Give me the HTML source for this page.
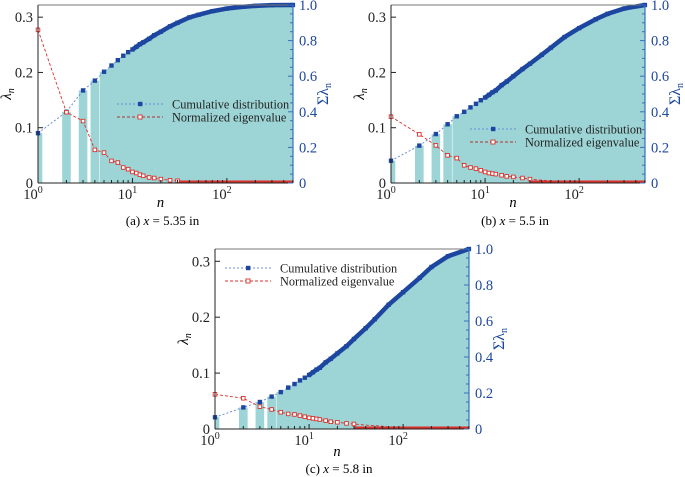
<!DOCTYPE html>
<html><head><meta charset="utf-8">
<style>
html,body{margin:0;padding:0;background:#fff;}
svg{display:block;}
svg text{font-family:"Liberation Serif","DejaVu Serif",serif;}
</style></head>
<body>
<svg id="fig" width="685" height="477" viewBox="0 0 685 477" font-family="Liberation Serif, serif"></svg>
<script>
// Panel (a) x = 5.35 in
const nA = [1,2,3,4,5,6,7,8,9,10,11,12,13,15,17,20,25,30,40,50,70,100,150,200,300,500];
const cumA = [0.28,0.40,0.52,0.575,0.625,0.66,0.69,0.715,0.735,0.75,0.765,0.78,0.79,0.81,0.83,0.85,0.88,0.90,0.93,0.945,0.965,0.98,0.99,0.995,0.999,1.0];
const eigA = [0.277,0.128,0.112,0.060,0.055,0.040,0.037,0.028,0.025,0.020,0.018,0.015,0.013,0.010,0.009,0.007,0.005,0.004,0.003,0.002,0.0013,0.0008,0.0005,0.0003,0.0002,0.0001];
// Panel (b) x = 5.5 in
const nB = [1,2,3,4,5,6,7,8,9,10,11,12,13,15,17,20,25,30,40,50,70,100,150,200,300,500];
const cumB = [0.125,0.21,0.275,0.33,0.375,0.40,0.425,0.445,0.465,0.48,0.495,0.51,0.52,0.55,0.57,0.60,0.64,0.67,0.72,0.76,0.82,0.87,0.92,0.95,0.98,1.0];
const eigB = [0.12,0.088,0.068,0.050,0.045,0.032,0.028,0.026,0.023,0.020,0.018,0.017,0.016,0.014,0.012,0.011,0.009,0.007,0.005,0.004,0.003,0.002,0.0015,0.001,0.0008,0.0005];
// Panel (c) x = 5.8 in
const nC = [1,2,3,4,5,6,7,8,9,10,11,12,13,15,17,20,25,30,40,50,70,100,150,200,300,500];
const cumC = [0.065,0.12,0.15,0.18,0.205,0.23,0.25,0.27,0.285,0.30,0.315,0.33,0.34,0.37,0.39,0.42,0.46,0.50,0.56,0.61,0.69,0.76,0.84,0.90,0.96,1.0];
const eigC = [0.062,0.055,0.040,0.035,0.030,0.027,0.026,0.024,0.022,0.020,0.019,0.018,0.017,0.015,0.013,0.012,0.010,0.009,0.007,0.006,0.004,0.003,0.002,0.0015,0.001,0.001];
const leftTicks = [0,0.1,0.2,0.3];
const leftTickLabels = ["0","0.1","0.2","0.3"];
const rightTicks = [0,0.2,0.4,0.6,0.8,1.0];
const rightTickLabels = ["0","0.2","0.4","0.6","0.8","1.0"];
const xDecades = [0,1,2];

const NS = "http://www.w3.org/2000/svg";
const svg = document.getElementById("fig");
const FF = "Liberation Serif, serif";
function mk(tag, attrs, parent, text){
  const e = document.createElementNS(NS, tag);
  for (const k in attrs) e.setAttribute(k, attrs[k]);
  if (tag === "text") e.setAttribute("font-family", FF);
  if (text !== undefined) e.textContent = text;
  (parent||svg).appendChild(e);
  return e;
}

function panel(P){
  const g = mk("g", {});
  
  
  const xs = n => P.L + Math.log10(n) / 2.7 * (P.R - P.L);
  const yl = v => P.B - v / 0.322 * (P.B - P.T);
  const yr = v => P.B - v * (P.B - P.T);
  const teal = "#9dd4d5", blue = "#1d46a0", red = "#d9302c";
  const hw = 4.3;
  for (let i = 0; i < P.n.length; i++) {
    if (P.n[i] > 4) break;
    const cx = xs(P.n[i]);
    const x0 = Math.max(P.L, cx - hw);
    const r = mk("rect", {x:x0, y:yr(P.cum[i]), width:cx+hw-x0, height:P.B-yr(P.cum[i]), fill:teal}, g);
    
    
  }
  let d = "";
  let start = P.n.findIndex(v => v >= 5);
  d += "M" + (xs(P.n[start]) - hw) + "," + P.B + " L" + (xs(P.n[start]) - hw) + "," + yr(P.cum[start]);
  for (let i = start; i < P.n.length; i++) d += " L" + xs(P.n[i]) + "," + yr(P.cum[i]);
  d += " L" + P.R + "," + yr(P.cum[P.n.length-1]) + " L" + P.R + "," + P.B + "Z";
  const area = mk("path", {d:d, fill:teal}, g);
  
  
  let pd = "";
  P.n.forEach((n,i)=>{ pd += (i?" L":"M") + xs(n) + "," + yr(P.cum[i]); });
  const cl = mk("path", {d:pd, fill:"none", stroke:"#6a8ee0", "stroke-width":1, "stroke-dasharray":"2,2"}, g);
  
  
  let thick = "";
  P.n.forEach((n,i)=>{ if (n >= 10) thick += (thick ? " L" : "M") + xs(n) + "," + yr(P.cum[i]); });
  const tl = mk("path", {d:thick, fill:"none", stroke:blue, "stroke-width":4.5}, g);
  
  
  P.n.forEach((n,i)=>{
    const m = mk("rect", {x:xs(n)-2.2, y:yr(P.cum[i])-2.2, width:4.4, height:4.4, fill:blue}, g);
    
    
  });
  let ed = "";
  P.n.forEach((n,i)=>{ ed += (i?" L":"M") + xs(n) + "," + yl(P.eig[i]); });
  const el0 = mk("path", {d:ed, fill:"none", stroke:red, "stroke-width":0.9, "stroke-dasharray":"3,2"}, g);
  
  
  const tailLine = mk("line", {x1:xs(30), y1:P.B-1.2, x2:P.R, y2:P.B-1.2, stroke:red, "stroke-width":2.6}, g);
  
  
  P.n.forEach((n,i)=>{
    if (n > 30) return;
    const m = mk("rect", {x:xs(n)-1.8, y:yl(P.eig[i])-1.8, width:3.6, height:3.6, fill:"#fff", stroke:red, "stroke-width":0.9}, g);
    
    
  });
  mk("line", {x1:P.L, y1:P.T, x2:P.R, y2:P.T, stroke:"#777", "stroke-width":1}, g);
  mk("line", {x1:P.L, y1:P.T, x2:P.L, y2:P.B, stroke:"#222", "stroke-width":1}, g);
  mk("line", {x1:P.L, y1:P.B, x2:P.R, y2:P.B, stroke:"#222", "stroke-width":1}, g);
  mk("line", {x1:P.R, y1:P.T, x2:P.R, y2:P.B, stroke:"#3a6fc0", "stroke-width":1.2}, g);
  leftTicks.forEach((v,i)=>{
    mk("line", {x1:P.L, y1:yl(v), x2:P.L+5, y2:yl(v), stroke:"#222"}, g);
    const t = mk("text", {x:P.L-5, y:yl(v)+5, "text-anchor":"end", "font-size":14.5, fill:"#222"}, g, leftTickLabels[i]);
    
    
  });
  for (let v = 0; v <= 1.0001; v += 0.05) {
    const major = Math.abs(v*5 - Math.round(v*5)) < 1e-6;
    mk("line", {x1:P.R, y1:yr(v), x2:P.R-(major?5:3), y2:yr(v), stroke:"#3a6fc0"}, g);
  }
  rightTicks.forEach((v,i)=>{
    const t = mk("text", {x:P.R+6, y:yr(v)+5, "font-size":14.5, fill:"#1d46a0"}, g, rightTickLabels[i]);
    
    
  });
  xDecades.forEach(k=>{
    const x = xs(Math.pow(10,k));
    mk("line", {x1:x, y1:P.B, x2:x, y2:P.B-5, stroke:"#222"}, g);
    for (let m = 2; m < 10; m++) {
      const n = m*Math.pow(10,k);
      if (Math.log10(n) > 2.7) break;
      mk("line", {x1:xs(n), y1:P.B, x2:xs(n), y2:P.B-3, stroke:"#222"}, g);
    }
    const t = mk("text", {x:x-5, y:P.B+16, "font-size":14.5, fill:"#222", "text-anchor":"middle"}, g, "10");
    mk("tspan", {dy:-6, "font-size":10}, t, String(k));
    
    
  });
  const xt = mk("text", {x:(P.L+P.R)/2-5, y:P.B+P.nOff, "font-size":14.5, "font-style":"italic", "text-anchor":"middle"}, g, "n");
  
  
  const yt = mk("text", {transform:"translate("+(P.L-27)+","+((P.T+P.B)/2)+") rotate(-90)", "font-size":15, "font-style":"italic", "text-anchor":"middle"}, g, "λ");
  mk("tspan", {dy:3, "font-size":10}, yt, "n");
  
  
  const rt = mk("text", {transform:"translate("+(P.R+35)+","+((P.T+P.B)/2)+") rotate(-90)", "font-size":16, fill:"#1d46a0", "text-anchor":"middle"}, g, "Σλ");
  mk("tspan", {dy:3, "font-size":10}, rt, "n");
  
  
  const cap = mk("text", {x:(P.L+P.R)/2-3, y:P.B+P.cOff, "font-size":13, "text-anchor":"middle"}, g);
  mk("tspan", {}, cap, "(" + P.id + ") ");
  mk("tspan", {"font-style":"italic"}, cap, "x");
  mk("tspan", {}, cap, " = " + P.x + " in");
  
  
  const lg = mk("g", {}, g);
  
  
  const lx = P.lx, ly = P.ly;
  mk("line", {x1:lx, y1:ly, x2:lx+46, y2:ly, stroke:"#6a8ee0", "stroke-dasharray":"2,2"}, lg);
  mk("rect", {x:lx+21, y:ly-2.2, width:4.4, height:4.4, fill:blue}, lg);
  mk("text", {x:lx+55, y:ly+4.5, "font-size":12.3, fill:"#222"}, lg, "Cumulative distribution");
  mk("line", {x1:lx, y1:ly+13, x2:lx+46, y2:ly+13, stroke:P.id==="c"?red:"#a33", "stroke-dasharray":"3,2"}, lg);
  mk("rect", {x:lx+21, y:ly+11, width:4, height:4, fill:"#fff", stroke:red, "stroke-width":0.9}, lg);
  mk("text", {x:lx+55, y:ly+17.5, "font-size":12.3, fill:"#222"}, lg, "Normalized eigenvalue");
}

panel({id:"a", x:"5.35", L:38, R:293, T:5, B:183, n:nA, cum:cumA, eig:eigA, lx:117, ly:104, nOff:24, cOff:42});
panel({id:"b", x:"5.5", L:391, R:645, T:5, B:183, n:nB, cum:cumB, eig:eigB, lx:470, ly:129, nOff:24, cOff:42});
panel({id:"c", x:"5.8", L:215, R:469, T:249, B:429, n:nC, cum:cumC, eig:eigC, lx:225, ly:268, nOff:27, cOff:44});
</script>
</body></html>
